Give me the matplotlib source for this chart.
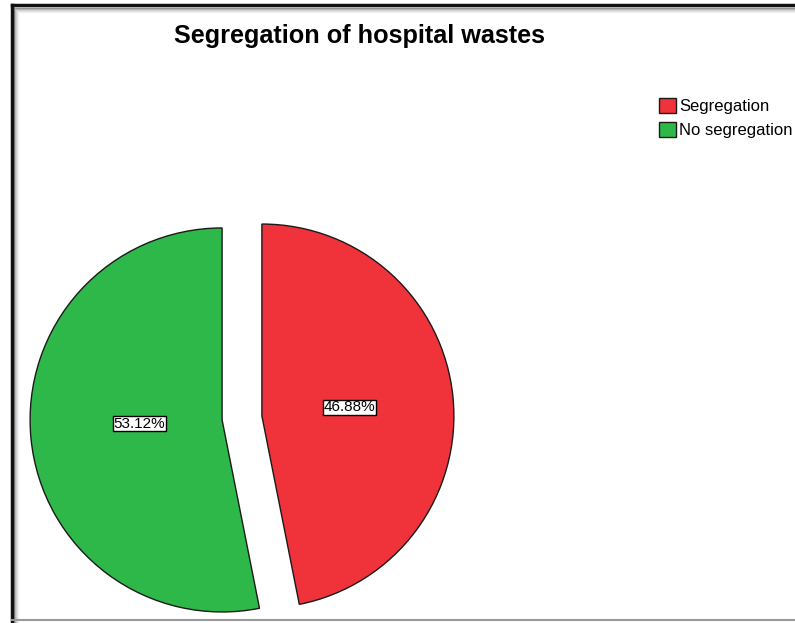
import matplotlib.pyplot as plt
from matplotlib.lines import Line2D

plt.rcParams['font.family'] = ['Liberation Sans', 'DejaVu Sans']

labels = ['Segregation', 'No segregation']
values = [46.88, 53.12]
colors = ['#F0323A', '#2EB84A']

W, H = 795, 623
fig = plt.figure(figsize=(W / 100, H / 100), dpi=100)
ax = fig.add_axes([0, 0, 1, 1])

# pie in pixel-like data units (y measured from the bottom)
wedges, texts, autotexts = ax.pie(
    values, colors=colors, startangle=90, counterclock=False,
    center=(242, H - 418), radius=192, explode=[20, 20],
    autopct='%1.2f%%', pctdistance=0.46,
    wedgeprops=dict(edgecolor='#1a1a1a', linewidth=1.0),
    textprops=dict(fontsize=11, color='black'))
for t in autotexts:
    t.set_bbox(dict(facecolor='white', edgecolor='black', linewidth=1, pad=0.6))
autotexts[1].set_position((autotexts[1].get_position()[0] + 5,
                           autotexts[1].get_position()[1] + 5))

ax.set_xlim(0, W)
ax.set_ylim(0, H)
ax.set_aspect('equal')
ax.axis('off')

fig.text(359 / W, 1 - 36 / H, 'Segregation of hospital wastes',
         ha='center', va='center', fontsize=18.2, fontweight='bold')

leg = ax.legend(wedges, labels, loc='upper left',
                bbox_to_anchor=(659 / W, 1 - 98 / H), bbox_transform=fig.transFigure,
                frameon=False, fontsize=12, handlelength=1.0, handleheight=1.05,
                handletextpad=0.2, labelspacing=0.45, borderpad=0, borderaxespad=0)

# frame around the picture with a soft shadow inside
for i, g in enumerate([0.55, 0.7, 0.8, 0.88, 0.94]):
    c = (g, g, g)
    fig.add_artist(Line2D([(14 + i) / W, (14 + i) / W], [0, 1 - (8 + i) / H],
                          transform=fig.transFigure, color=c, lw=1))
    fig.add_artist(Line2D([(14 + i) / W, 1], [1 - (8 + i) / H, 1 - (8 + i) / H],
                          transform=fig.transFigure, color=c, lw=1))
fig.add_artist(Line2D([11.5 / W, 11.5 / W], [0, 1 - 5 / H],
                      transform=fig.transFigure, color='#111111', lw=2.5))
fig.add_artist(Line2D([11.5 / W, 1], [1 - 5 / H, 1 - 5 / H],
                      transform=fig.transFigure, color='#111111', lw=2.5))
fig.add_artist(Line2D([11.5 / W, 1], [3 / H, 3 / H],
                      transform=fig.transFigure, color='#999999', lw=1.5))

fig.savefig('out.png', dpi=100)
